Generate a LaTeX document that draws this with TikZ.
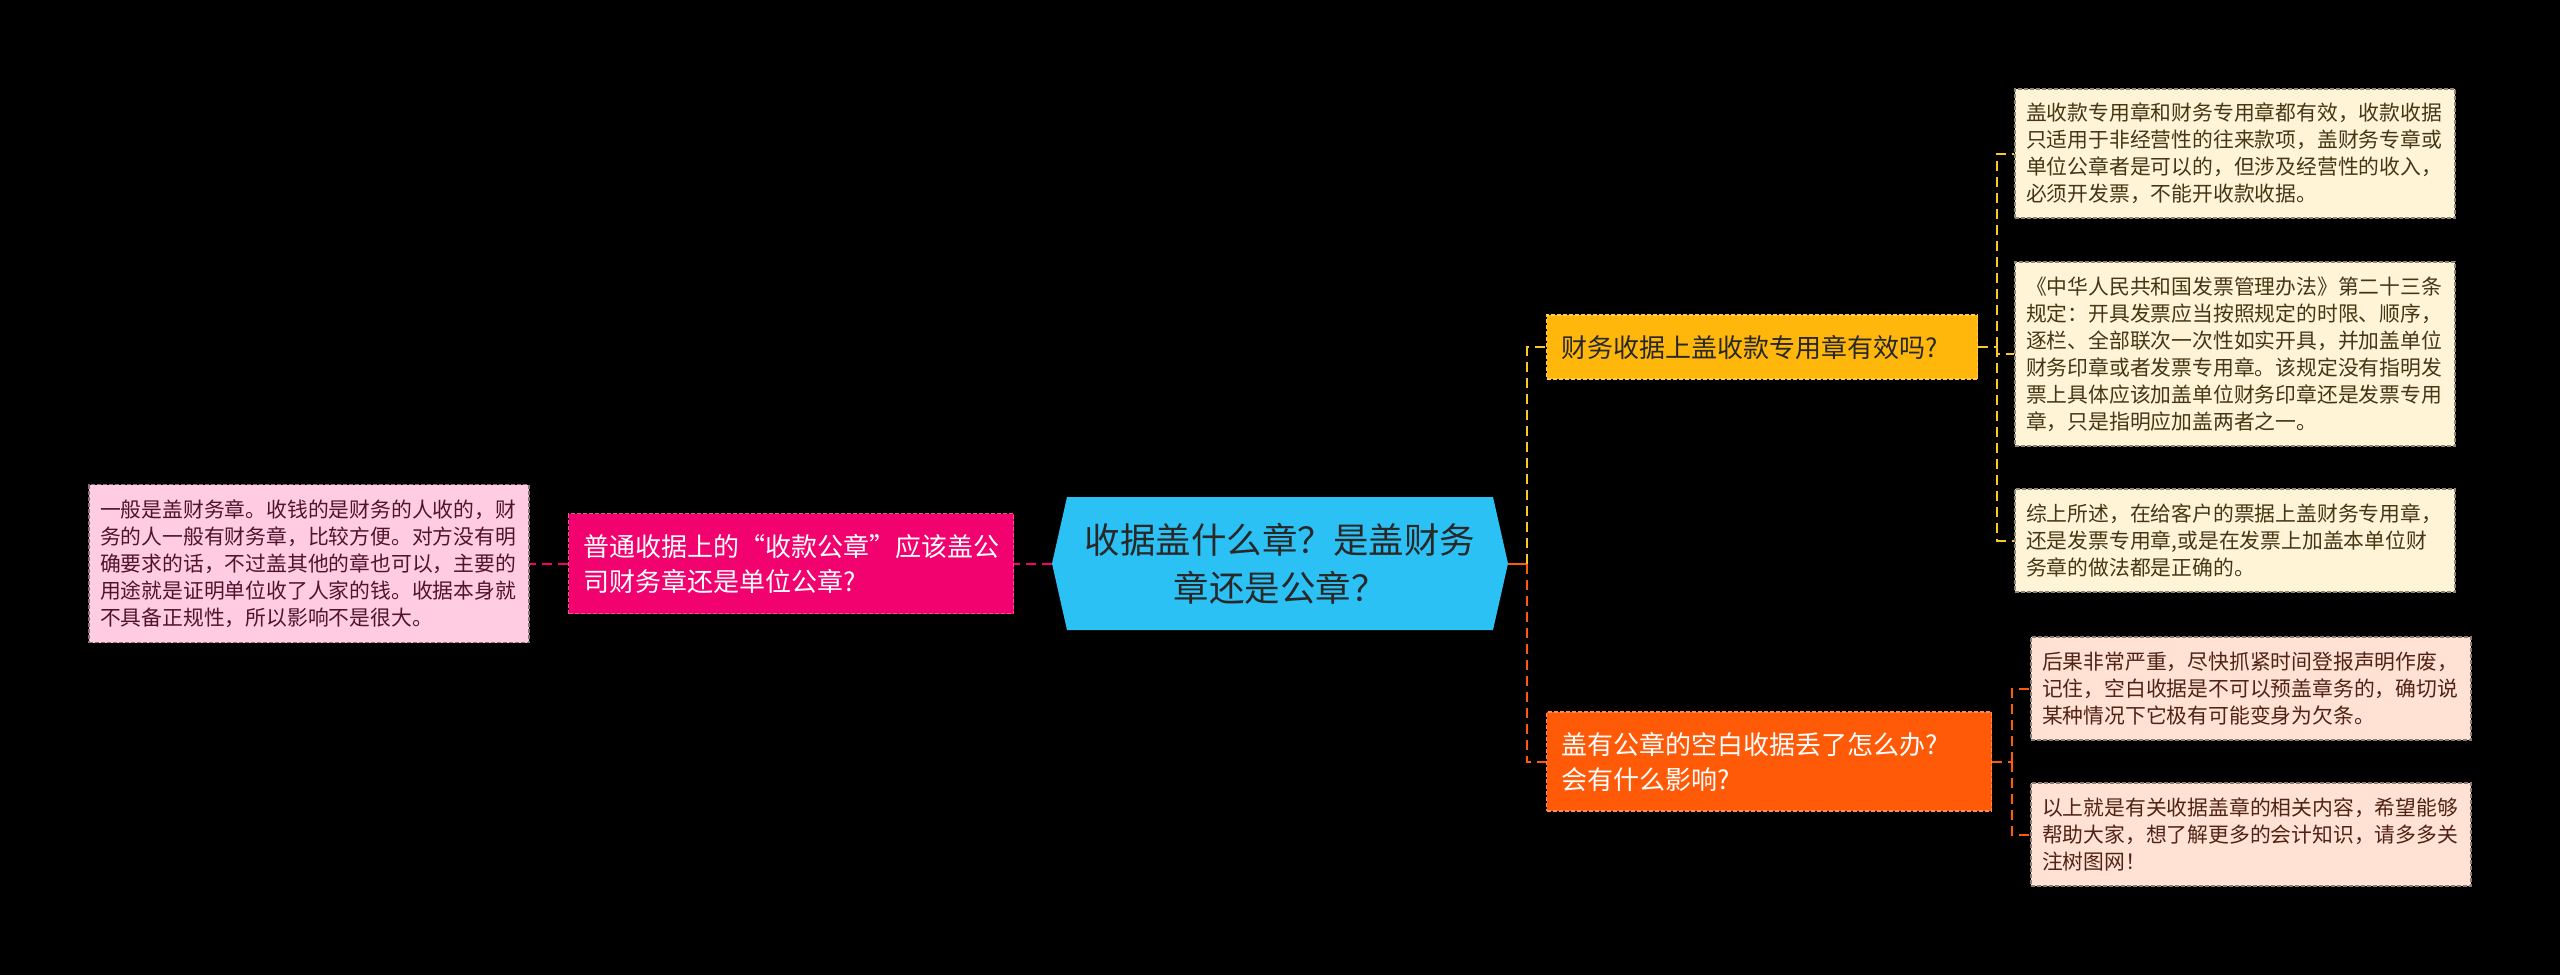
\documentclass[tikz,border=0pt]{standalone}
\usepackage{fontspec}
\newfontfamily\cjk{Noto Sans CJK SC}
\usepackage{xcolor}
\usetikzlibrary{calc, math}
\definecolor{rootblue}{RGB}{44,193,244}
\definecolor{pinkc}{RGB}{241,2,110}
\definecolor{lpinkc}{RGB}{255,204,226}
\definecolor{yelc}{RGB}{255,183,12}
\definecolor{yline}{RGB}{250,200,40}
\definecolor{creamc}{RGB}{255,245,214}
\definecolor{orac}{RGB}{255,90,8}
\definecolor{peachc}{RGB}{255,226,212}
\definecolor{darktext}{RGB}{40,40,40}

\begin{document}
\begin{tikzpicture}[x=1pt, y=-1pt,
  leafbox/.style={fill=#1, draw=#1!55!black, dash pattern=on 4pt off 2pt, line width=1.2pt,
    text width=418pt, inner xsep=11pt, inner ysep=0pt, align=left,
    font=\cjk\fontsize{20.8}{27}\selectfont},
  branchnode/.style={fill=#1, draw=#1!70!white, dash pattern=on 4pt off 2pt, line width=1.2pt,
    inner xsep=15pt, inner ysep=0pt, align=left, anchor=west,
    font=\cjk\fontsize{26}{35}\selectfont},
  link/.style={draw=#1, line width=2pt, dash pattern=on 10pt off 6pt}
]
\tikzmath{
\rx=1280;
\ry=563.5;
\rw=228;
\rh=66.5;
\rt=15;
}
\useasboundingbox (0,0) rectangle (2560,975);
\fill[black] (0,0) rectangle (2560,975);

% central topic
\fill[rootblue] (\rx-\rw+\rt,\ry-\rh) -- (\rx+\rw-\rt,\ry-\rh) -- (\rx+\rw,\ry)
  -- (\rx+\rw-\rt,\ry+\rh) -- (\rx-\rw+\rt,\ry+\rh) -- (\rx-\rw,\ry) -- cycle;
\node[minimum width=2*\rw, minimum height=2*\rh, inner sep=0pt, align=center,
  text=darktext, font=\cjk\fontsize{35.5}{48}\selectfont] (root) at (\rx,\ry)
  {收据盖什么章？是盖财务\\章还是公章？};

% left branch
\node[branchnode=pinkc, text=white, text width=415pt, minimum height=100pt] (askpink) at (568,\ry)
  {普通收据上的“收款公章”应该盖公\\司财务章还是单位公章?};
\node[leafbox=lpinkc, text={rgb,255:red,80;green,20;blue,45}, minimum height=158pt] (lpink) at (309,\ry)
  {一般是盖财务章。收钱的是财务的人收的，财\\务的人一般有财务章，比较方便。对方没有明\\确要求的话，不过盖其他的章也可以，主要的\\用途就是证明单位收了人家的钱。收据本身就\\不具备正规性，所以影响不是很大。};

% right branches
\node[branchnode=yelc, text=darktext, text width=401pt, minimum height=64pt] (askyel) at (1546,347)
  {财务收据上盖收款专用章有效吗?};
\node[branchnode=orac, text=white, text width=415pt, minimum height=99pt] (askora) at (1546,761.5)
  {盖有公章的空白收据丢了怎么办?\\会有什么影响?};

\node[leafbox=creamc, text={rgb,255:red,70;green,55;blue,20}, minimum height=129pt] (cream1) at (2235,153.5)
  {盖收款专用章和财务专用章都有效，收款收据\\只适用于非经营性的往来款项，盖财务专章或\\单位公章者是可以的，但涉及经营性的收入，\\必须开发票，不能开收款收据。};
\node[leafbox=creamc, text={rgb,255:red,70;green,55;blue,20}, minimum height=184pt] (cream2) at (2235,354)
  {《中华人民共和国发票管理办法》第二十三条\\规定：开具发票应当按照规定的时限、顺序，\\逐栏、全部联次一次性如实开具，并加盖单位\\财务印章或者发票专用章。该规定没有指明发\\票上具体应该加盖单位财务印章还是发票专用\\章，只是指明应加盖两者之一。};
\node[leafbox=creamc, text={rgb,255:red,70;green,55;blue,20}, minimum height=103pt] (cream3) at (2235,540.5)
  {综上所述，在给客户的票据上盖财务专用章，\\还是发票专用章,或是在发票上加盖本单位财\\务章的做法都是正确的。};

\node[leafbox=peachc, text={rgb,255:red,80;green,35;blue,20}, minimum height=103pt] (peach1) at (2251,688.5)
  {后果非常严重，尽快抓紧时间登报声明作废，\\记住，空白收据是不可以预盖章务的，确切说\\某种情况下它极有可能变身为欠条。};
\node[leafbox=peachc, text={rgb,255:red,80;green,35;blue,20}, minimum height=103pt] (peach2) at (2251,834.5)
  {以上就是有关收据盖章的相关内容，希望能够\\帮助大家，想了解更多的会计知识，请多多关\\注树图网！};

% connectors
\draw[link=pinkc] (root.west) -- (askpink.east);
\draw[link=pinkc] (askpink.west) -- (lpink.east);

\coordinate (trunk) at (1527,\ry);
\draw[orac, line width=2pt] (root.east) -- (trunk);
\draw[link=yline] (trunk) |- (askyel.west);
\draw[link=orac] (trunk) |- (askora.west);

\coordinate (yfork) at (1997,347);
\draw[link=yline] (askyel.east) -- (yfork);
\foreach \n in {cream1, cream2, cream3}
  \draw[link=yline] (yfork) |- (\n.west);

\coordinate (ofork) at (2012,761.5);
\draw[link=orac] (askora.east) -- (ofork);
\foreach \n in {peach1, peach2}
  \draw[link=orac] (ofork) |- (\n.west);

\end{tikzpicture}
\end{document}
